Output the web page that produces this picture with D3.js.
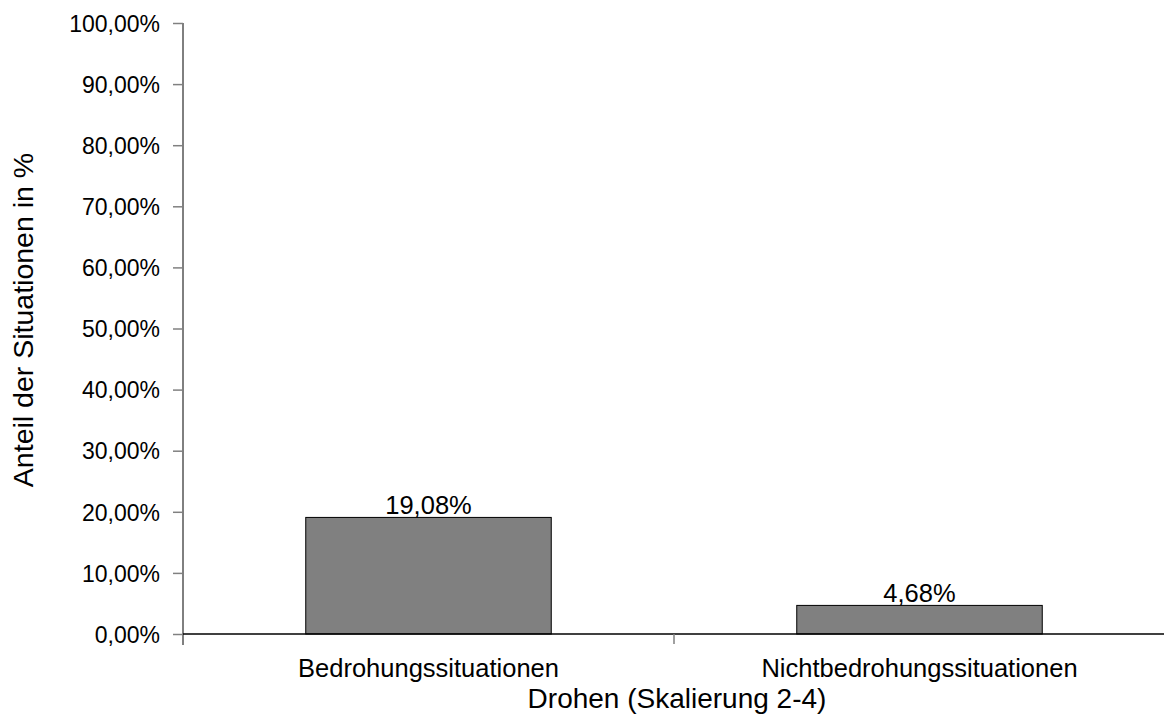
<!DOCTYPE html>
<html>
<head>
<meta charset="utf-8">
<script src="https://cdn.jsdelivr.net/npm/d3@7"></script>
<style>
  body { margin: 0; background: #fff; overflow: hidden; }
  svg text { font-family: "Liberation Sans", Arial, sans-serif; fill: #000; }
</style>
</head>
<body>
<script>
// data
var categories = ["Bedrohungssituationen", "Nichtbedrohungssituationen"];
var values = [19.08, 4.68];
var yTicks = [0, 10, 20, 30, 40, 50, 60, 70, 80, 90, 100];

var W = 1164, H = 717;
var margin = { top: 23, left: 183 };
var width = 982,
    height = 611;

var svg = d3.select("body").append("svg")
    .attr("width", W)
    .attr("height", H);

var g = svg.append("g")
    .attr("transform", "translate(" + margin.left + "," + margin.top + ")");

var x = d3.scaleBand()
    .domain(categories)
    .range([0, width])
    .paddingInner(0.5)
    .paddingOuter(0.25);

var y = d3.scaleLinear()
    .domain([0, 100])
    .range([height, 0]);

function fmt(v) {
    return v.toFixed(2).replace(".", ",") + "%";
}

// Y axis
var yAxis = g.append("g")
    .call(d3.axisLeft(y).tickValues(yTicks).tickSize(10).tickPadding(13).tickFormat(fmt));
yAxis.select(".domain").attr("stroke", "#000").attr("d", "M0,0V" + (height + 11));
yAxis.selectAll(".tick line").attr("stroke", "#808080").attr("stroke-width", 1.5);
yAxis.selectAll(".tick text")
    .style("font-size", "23px")
    .attr("dy", "0.36em");

// bars
g.selectAll(".bar")
    .data(values)
    .enter().append("rect")
    .attr("x", function(d, i) { return x(categories[i]); })
    .attr("y", function(d) { return y(d); })
    .attr("width", x.bandwidth())
    .attr("height", function(d) { return height - y(d); })
    .attr("fill", "#808080")
    .attr("stroke", "#000")
    .attr("stroke-width", 1);

// value labels
g.selectAll(".val")
    .data(values)
    .enter().append("text")
    .attr("x", function(d, i) { return x(categories[i]) + x.bandwidth() / 2; })
    .attr("y", function(d) { return y(d) - 3; })
    .attr("text-anchor", "middle")
    .style("font-size", "25.5px")
    .text(function(d) { return fmt(d); });

// X axis
var xAxis = g.append("g")
    .attr("transform", "translate(0," + height + ")");
xAxis.append("line")
    .attr("x1", 0).attr("x2", width)
    .attr("stroke", "#000").attr("stroke-width", 1.5);
// tick between the two categories
var mid = x(categories[1]) - x.step() * 0.25;
xAxis.append("line")
    .attr("x1", mid).attr("x2", mid)
    .attr("y1", 0).attr("y2", 10)
    .attr("stroke", "#808080")
    .attr("stroke-width", 1.5);
xAxis.selectAll(".cat")
    .data(categories)
    .enter().append("text")
    .attr("x", function(d) { return x(d) + x.bandwidth() / 2; })
    .attr("y", 43)
    .attr("text-anchor", "middle")
    .style("font-size", "25.5px")
    .text(function(d) { return d; });

// axis titles
svg.append("text")
    .attr("x", margin.left + width / 2 + 3)
    .attr("y", 708)
    .attr("text-anchor", "middle")
    .style("font-size", "28px")
    .text("Drohen (Skalierung 2-4)");

svg.append("text")
    .attr("transform", "translate(33,320) rotate(-90)")
    .attr("text-anchor", "middle")
    .style("font-size", "28.5px")
    .text("Anteil der Situationen in %");
</script>
</body>
</html>
